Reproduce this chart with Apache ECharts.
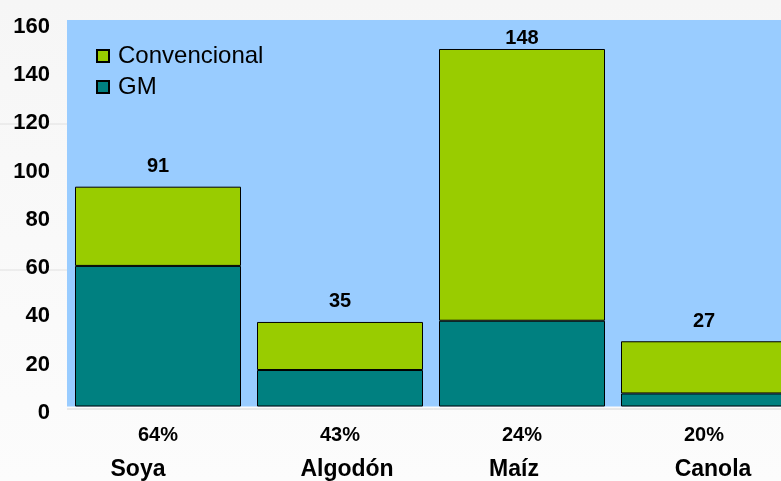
<!DOCTYPE html>
<html>
<head>
<meta charset="utf-8">
<script src="https://cdn.jsdelivr.net/npm/echarts@6/dist/echarts.min.js"></script>
<style>
  html, body { margin: 0; padding: 0; overflow: hidden; width: 781px; height: 481px; }
  #chart { width: 800px; height: 481px; }
</style>
</head>
<body>
<div id="chart"></div>
<script>
// Superficie cultivada por cultivo: parte GM y parte convencional
const categories = ['Soya', 'Algodón', 'Maíz', 'Canola'];
const totals = [91, 35, 148, 27];
const gmShareLabels = ['64%', '43%', '24%', '20%'];
const gmValues = [58.2, 15.1, 35.5, 5.4];
const convValues = [32.8, 19.9, 112.5, 21.6];
const yTicks = [0, 20, 40, 60, 80, 100, 120, 140, 160];

const FONT = "'Liberation Sans', Arial, Helvetica, sans-serif";
const GREEN = '#99CC00';
const TEAL = '#008080';

// horizontal nudges of the crop names under each column
const nameShift = [-20, 7, -8, 9];
const rich = {
  p: { fontFamily: FONT, fontWeight: 'bold', fontSize: 20, color: '#000', lineHeight: 32 }
};
nameShift.forEach((d, i) => {
  rich['n' + i] = {
    fontFamily: FONT, fontWeight: 'bold', fontSize: 23, color: '#000', lineHeight: 36,
    padding: d >= 0 ? [0, 0, 0, 2 * d] : [0, -2 * d, 0, 0]
  };
});

const chart = echarts.init(document.getElementById('chart'), null, { renderer: 'canvas' });

chart.setOption({
  animation: false,
  backgroundColor: {
    type: 'linear', x: 0, y: 0, x2: 0, y2: 1,
    colorStops: [{ offset: 0, color: '#f6f6f6' }, { offset: 1, color: '#fcfcfc' }]
  },
  graphic: [
    { type: 'line', shape: { x1: 0, y1: 124, x2: 67, y2: 124 }, style: { stroke: '#e0e0e0', lineWidth: 1 } },
    { type: 'line', shape: { x1: 0, y1: 270, x2: 67, y2: 270 }, style: { stroke: '#e0e0e0', lineWidth: 1 } },
    { type: 'line', shape: { x1: 67, y1: 409, x2: 800, y2: 409 }, style: { stroke: '#d6d6d6', lineWidth: 1 } }
  ],
  grid: {
    left: 67, top: 20, width: 728, height: 388,
    show: true, backgroundColor: '#99CCFF', borderWidth: 0,
    containLabel: false
  },
  legend: {
    data: ['Convencional', 'GM'],
    orient: 'vertical',
    left: 91, top: 39,
    icon: 'rect',
    itemWidth: 12, itemHeight: 12,
    itemGap: 7,
    textStyle: { fontFamily: FONT, fontSize: 24, color: '#000', lineHeight: 24, padding: [0, 0, 0, 4] }
  },
  xAxis: {
    type: 'category',
    data: categories,
    axisLine: { show: false },
    axisTick: { show: false },
    splitLine: { show: false },
    axisLabel: {
      margin: 13,
      interval: 0,
      formatter: (v, i) => '{p|' + gmShareLabels[i] + '}\n{n' + i + '|' + v + '}',
      rich: rich
    }
  },
  yAxis: {
    type: 'value',
    min: yTicks[0],
    max: yTicks[yTicks.length - 1],
    interval: 20,
    axisLine: { show: false },
    axisTick: { show: false },
    splitLine: { show: false },
    axisLabel: {
      fontFamily: FONT, fontWeight: 'bold', fontSize: 22, color: '#000',
      margin: 17, verticalAlign: 'top', lineHeight: 13
    }
  },
  series: [
    {
      name: 'GM',
      type: 'bar',
      stack: 'total',
      barWidth: 166,
      itemStyle: { color: TEAL, borderColor: '#000', borderWidth: 1 },
      data: gmValues
    },
    {
      name: 'Convencional',
      type: 'bar',
      stack: 'total',
      barWidth: 166,
      itemStyle: { color: GREEN, borderColor: '#000', borderWidth: 1 },
      label: {
        show: true,
        position: 'top',
        distance: 10,
        fontFamily: FONT, fontWeight: 'bold', fontSize: 20, color: '#000',
        formatter: p => String(totals[p.dataIndex])
      },
      data: convValues.map((v, i) => totals[i] > 140
        ? { value: v, label: { distance: 1 } }
        : v)
    }
  ]
});
</script>
</body>
</html>
